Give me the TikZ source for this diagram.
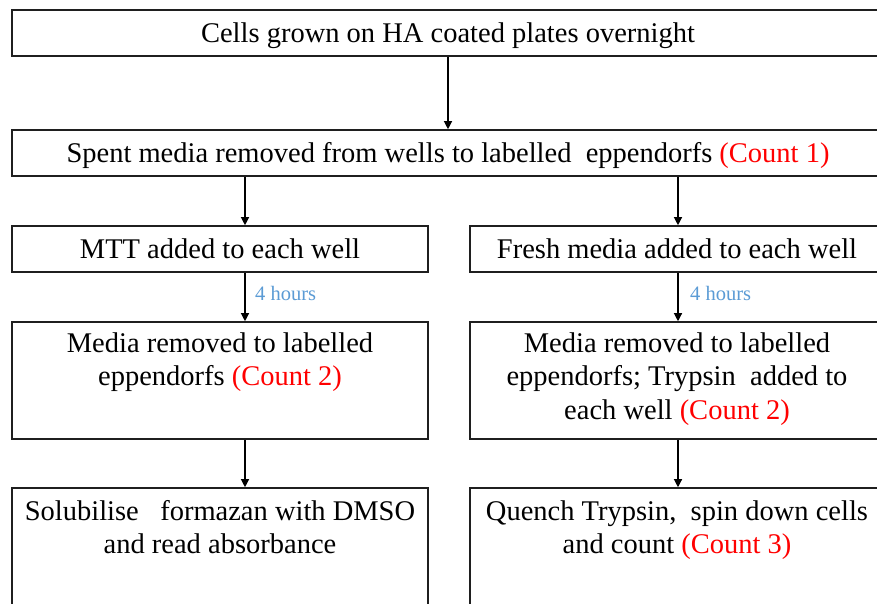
\documentclass[tikz,border=0pt]{standalone}
\usepackage{fontspec}
\setmainfont{Liberation Serif}
\usetikzlibrary{arrows.meta}
\definecolor{cnt}{RGB}{255,0,0}
\definecolor{hrs}{RGB}{91,155,213}
\begin{document}
\begin{tikzpicture}[x=1pt,y=-1pt,
  box/.style={draw=black!88, line width=1.6pt, rectangle, inner sep=0pt},
  txt/.style={anchor=base, align=center, inner sep=0pt, font=\fontsize{28.5}{33.5}\selectfont},
  hours/.style={anchor=base west, inner sep=0pt, text=hrs, font=\fontsize{20.5}{24}\selectfont},
  arrow/.style={-{Triangle[width=8pt,length=8pt]}, line width=1.2pt, draw=black}]
\useasboundingbox (0,0) rectangle (877,603);
\fill[white] (0,0) rectangle (877,603);
\clip (0,0) rectangle (877,603);
% boxes
\node[box, minimum width=872pt, minimum height=46pt] (top) at (448,33) {};
\node[box, minimum width=872pt, minimum height=46pt] (spent) at (448,153) {};
\node[box, minimum width=416pt, minimum height=46pt] (mtt) at (220,249) {};
\node[box, minimum width=414pt, minimum height=46pt] (fresh) at (677,249) {};
\node[box, minimum width=416pt, minimum height=117pt] (medL) at (220,380.5) {};
\node[box, minimum width=414pt, minimum height=117pt] (medR) at (677,380.5) {};
\node[box, minimum width=416pt, minimum height=152pt] (solL) at (220,564) {};
\node[box, minimum width=414pt, minimum height=152pt] (quen) at (677,564) {};
% texts (base anchor = baseline of the last line)
\node[txt] (ttop) at ([yshift=-33pt]top.north) {Cells grown on HA coated plates overnight};
\node[txt] (tspent) at ([yshift=-33pt]spent.north) {Spent media removed from wells to labelled\ \ eppendorfs \textcolor{cnt}{(Count 1)}};
\node[txt] (tmtt) at ([yshift=-33pt]mtt.north) {MTT added to each well};
\node[txt] (tfresh) at ([yshift=-33pt]fresh.north) {Fresh media added to each well};
\node[txt] (tmedL) at ([yshift=-64.5pt]medL.north) {Media removed to labelled\\eppendorfs \textcolor{cnt}{(Count 2)}};
\node[txt] (tmedR) at ([yshift=-98pt]medR.north) {Media removed to labelled\\eppendorfs; Trypsin\ \ added to\\each well \textcolor{cnt}{(Count 2)}};
\node[txt] (tsolL) at ([yshift=-66.5pt]solL.north) {Solubilise\ \ \ formazan with DMSO\\and read absorbance};
\node[txt] (tquen) at ([yshift=-66.5pt]quen.north) {Quench Trypsin,\ \ spin down cells\\and count \textcolor{cnt}{(Count 3)}};
% connectors
\coordinate (xl) at (245,0);
\coordinate (xr) at (678,0);
\draw[arrow] (top.south) -- (spent.north);
\draw[arrow] (spent.south -| xl) -- (mtt.north -| xl);
\draw[arrow] (spent.south -| xr) -- (fresh.north -| xr);
\draw[arrow] (mtt.south -| xl) -- (medL.north -| xl);
\draw[arrow] (fresh.south -| xr) -- (medR.north -| xr);
\draw[arrow] (medL.south -| xl) -- (solL.north -| xl);
\draw[arrow] (medR.south -| xr) -- (quen.north -| xr);
\node[hours] (hl) at ([xshift=10pt,yshift=-28pt]mtt.south -| xl) {4 hours};
\node[hours] (hr) at ([xshift=12pt,yshift=-28pt]fresh.south -| xr) {4 hours};
\end{tikzpicture}
\end{document}
